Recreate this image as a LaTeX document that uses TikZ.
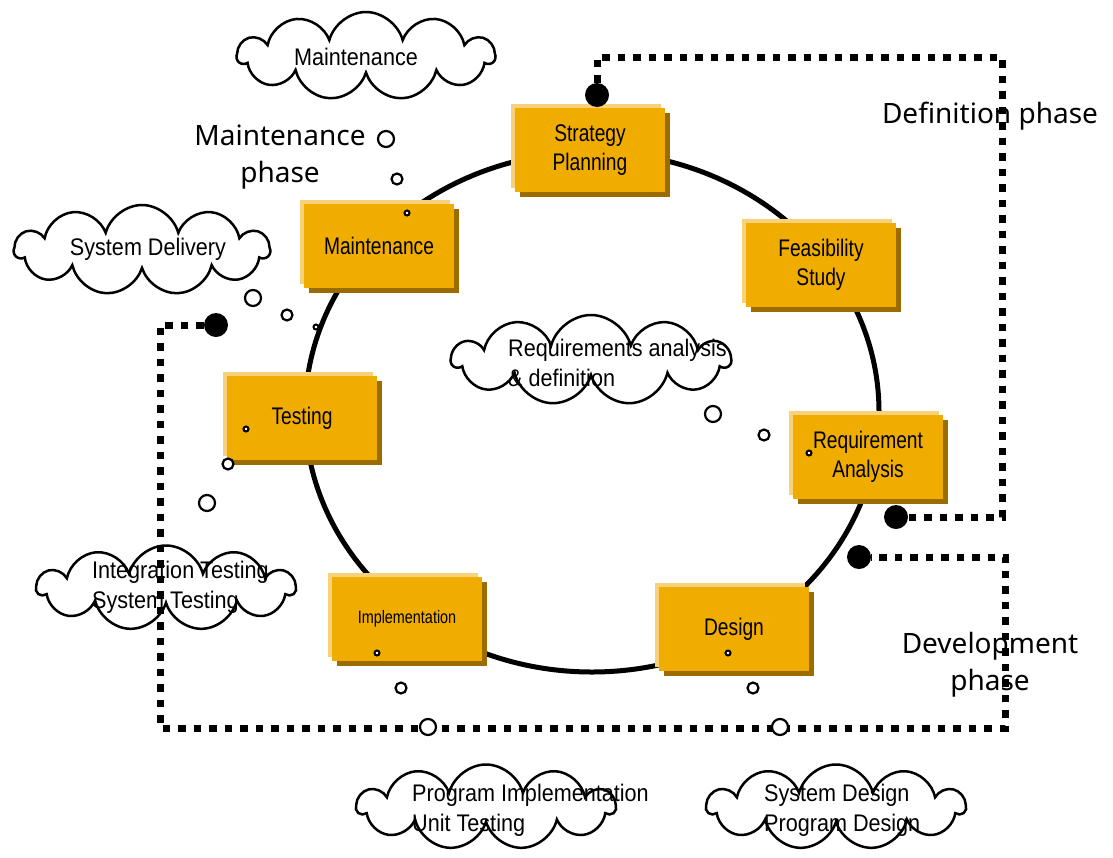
\documentclass[tikz,border=0pt]{standalone}
\usepackage{fontspec}
\setmainfont{Liberation Sans}
\newfontfamily\boxfont[FakeStretch=0.8]{Liberation Sans}
\newfontfamily\cloudfont[FakeStretch=0.9]{Liberation Sans}
\newfontfamily\phasefont{Noto Sans}
\usetikzlibrary{shapes.symbols, shadows}
\definecolor{my orange}{HTML}{F0AD00}
\definecolor{my brown}{HTML}{9C6C00}
\definecolor{my pale}{HTML}{F8D27A}

\begin{document}
\begin{tikzpicture}[x=1pt, y=-1pt,
    stage/.style={fill=my orange, minimum width=150pt, minimum height=84pt, inner sep=0pt, align=center,
      font=\boxfont\fontsize{24}{29}\selectfont,
      general shadow={shadow xshift=-4pt, shadow yshift=4pt, fill=my pale},
      general shadow={shadow xshift=5pt, shadow yshift=-5pt, fill=my brown}},
    thought/.style={cloud, cloud puffs=11, cloud ignores aspect, draw, line width=2.5pt, fill=white, inner sep=0pt},
    words/.style={align=left, inner sep=0pt, font=\cloudfont\fontsize{24}{30}\selectfont},
    phase/.style={align=center, inner sep=0pt, font=\phasefont\fontsize{28}{37}\selectfont},
    bubble/.style={circle, draw, line width=2.2pt, fill=white, inner sep=0pt, minimum size=#1},
    bubble/.default=14pt,
    bigdot/.style={circle, fill=black, inner sep=0pt, minimum size=24pt},
    dotline/.style={line width=7pt, dash pattern=on 7.5pt off 8pt}]
  \useasboundingbox (0,0) rectangle (1113,857);

  \draw [line width=5pt] (592,412) ellipse [x radius=287, y radius=260];

  \node [stage] (strategy) at (590,150) {Strategy\\Planning};
  \node [stage] (feasibility) at (821,265) {Feasibility\\Study};
  \node [stage] (requirement) at (868,457) {Requirement\\Analysis};
  \node [stage] (design) at (734,629) {Design};
  \node [stage, font=\boxfont\fontsize{18}{22}\selectfont] (implementation) at (407,619) {Implementation};
  \node [stage] (testing) at (302,418) {Testing};
  \node [stage] (maintenance) at (379,246) {Maintenance};

  \node [thought, minimum width=257pt, minimum height=88pt] (maintcloud) at (366,56) {};
  \node [words] (maintwords) at (356,57) {Maintenance};
  \node [thought, minimum width=255pt, minimum height=90pt] (delivcloud) at (142,250) {};
  \node [words] (delivwords) at (148,249) {System Delivery};
  \node [thought, minimum width=278pt, minimum height=90pt] (reqcloud) at (591,360) {};
  \node [words, anchor=west] (reqwords) at (508,363) {Requirements analysis\\\& definition};
  \node [thought, minimum width=258pt, minimum height=85pt] (integcloud) at (166,588) {};
  \node [words, anchor=west] (integwords) at (92,587) {Integration Testing\\System Testing};
  \node [thought, minimum width=258pt, minimum height=85pt] (progcloud) at (486,807) {};
  \node [words, anchor=west] (progwords) at (412,810) {Program Implementation\\Unit Testing};
  \node [thought, minimum width=258pt, minimum height=85pt] (syscloud) at (836,807) {};
  \node [words, anchor=west] (syswords) at (764,810) {System Design\\Program Design};

  \node [phase] (maintphase) at (280,157) {Maintenance\\phase};
  \node [phase] (defphase) at (990,116) {Definition phase};
  \node [phase] (devphase) at (990,665) {Development\\phase};

  \node [bigdot] (defstart) at (597,95) {};
  \node [bigdot] (defend) at (896,517) {};
  \node [bigdot] (devstart) at (216,325) {};
  \node [bigdot] (devend) at (859,557) {};
  \draw [dotline] (defstart) |- (1002,57) |- (defend);
  \draw [dotline] (devstart) -| (160,728) -| (1005,557) -- (devend);

  \node [bubble=16pt] (m1) at (386,139) {};
  \node [bubble=11pt] (m2) at (397,179) {};
  \node [bubble=5pt, line width=2pt] (m3) at (407,213) {};
  \node [bubble=16pt] (r1) at (713,414) {};
  \node [bubble=11pt] (r2) at (764,435) {};
  \node [bubble=5pt, line width=2pt] (r3) at (809,453) {};
  \node [bubble=16pt] (s1) at (253,298) {};
  \node [bubble=11pt] (s2) at (287,315) {};
  \node [bubble=5pt, line width=2pt] (s3) at (316,327) {};
  \node [bubble=16pt] (t1) at (207,503) {};
  \node [bubble=11pt] (t2) at (228,464) {};
  \node [bubble=5pt, line width=2pt] (t3) at (246,429) {};
  \node [bubble=16pt] (p1) at (428,727) {};
  \node [bubble=11pt] (p2) at (401,688) {};
  \node [bubble=5pt, line width=2pt] (p3) at (377,653) {};
  \node [bubble=16pt] (d1) at (780,727) {};
  \node [bubble=11pt] (d2) at (753,688) {};
  \node [bubble=5pt, line width=2pt] (d3) at (728,653) {};
\end{tikzpicture}
\end{document}
